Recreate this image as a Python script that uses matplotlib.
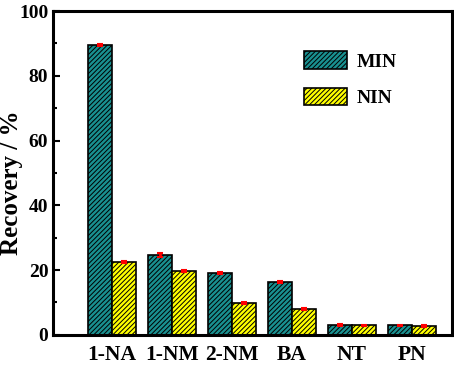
import numpy as np
import matplotlib.pyplot as plt
from matplotlib.ticker import MultipleLocator

plt.rcParams['font.family'] = ['Liberation Serif', 'DejaVu Serif']
plt.rcParams['font.weight'] = 'bold'
plt.rcParams['hatch.linewidth'] = 0.7

categories = ['1-NA', '1-NM', '2-NM', 'BA', 'NT', 'PN']
min_vals = [89.5, 24.7, 19.1, 16.4, 3.1, 2.9]
nin_vals = [22.4, 19.8, 9.9, 7.9, 2.9, 2.7]
min_err = [0.4, 0.5, 0.3, 0.3, 0.3, 0.3]
nin_err = [0.3, 0.3, 0.3, 0.3, 0.3, 0.3]

fig = plt.figure(figsize=(4.54, 3.68), dpi=100)
ax = fig.add_axes([0.117, 0.09, 0.879, 0.88])

x = np.arange(len(categories))
w = 0.4
ax.bar(x - w / 2, min_vals, w, color='#199090', edgecolor='black', hatch='///////',
       linewidth=1.2, label='MIN')
ax.bar(x + w / 2, nin_vals, w, color='#ffff00', edgecolor='black', hatch='///////',
       linewidth=1.2, label='NIN')
ax.errorbar(x - w / 2, min_vals, yerr=min_err, fmt='none', ecolor='red', elinewidth=2,
            capsize=2, capthick=1.5)
ax.errorbar(x + w / 2, nin_vals, yerr=nin_err, fmt='none', ecolor='red', elinewidth=2,
            capsize=2, capthick=1.5)

ax.set_xlim(-0.98, 5.67)
ax.set_ylim(0, 100)
ax.set_xticks(x)
ax.set_xticklabels(categories, fontsize=15.5, fontweight='bold')
ax.yaxis.set_major_locator(MultipleLocator(20))
ax.yaxis.set_minor_locator(MultipleLocator(10))
ax.tick_params(axis='y', which='both', direction='in', labelsize=14, width=1.5)
ax.tick_params(axis='y', which='major', length=5)
ax.tick_params(axis='y', which='minor', length=3)
ax.tick_params(axis='x', length=0, pad=7)
for lab in ax.get_yticklabels():
    lab.set_fontweight('bold')
for s in ax.spines.values():
    s.set_linewidth(2.2)
ax.set_ylabel('Recovery / %', fontsize=18, fontweight='bold')
ax.yaxis.set_label_coords(-0.075, 0.47)

ax.legend(loc='upper left', bbox_to_anchor=(0.585, 0.93), frameon=False, fontsize=14,
          handlelength=2.2, handleheight=1.0, labelspacing=0.9, handletextpad=0.5)

fig.savefig('out.png', dpi=100)
